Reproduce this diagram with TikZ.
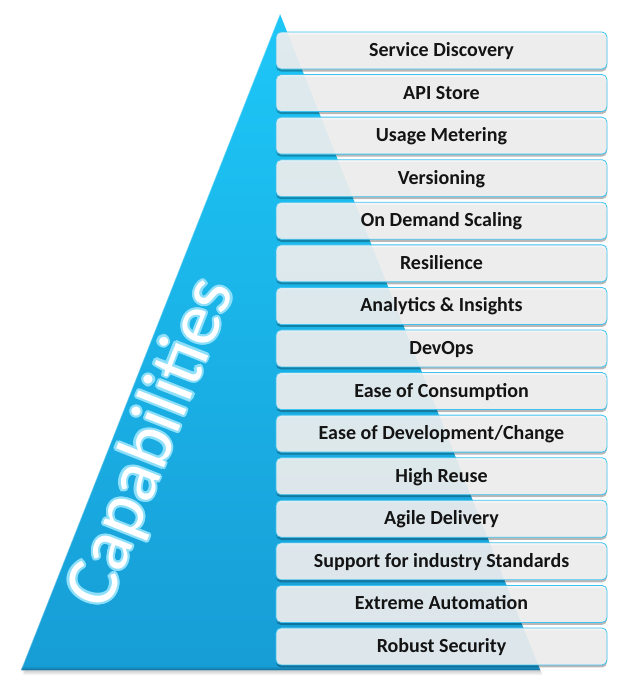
\documentclass[tikz,border=0pt]{standalone}
\usepackage{fontspec}
\setmainfont{Carlito}
\usetikzlibrary{calc,shadows}
\begin{document}
\begin{tikzpicture}[x=1pt,y=-1pt]
\definecolor{pyrtop}{HTML}{1DC7F7}
\definecolor{pyrbot}{HTML}{179DD6}
\definecolor{pyrrim}{HTML}{15709C}
\definecolor{barline}{HTML}{3FC2EF}
\definecolor{barfill}{HTML}{F4F4F4}
\definecolor{glow}{HTML}{8EE0FA}
\tikzset{
  bar/.style={draw=barline, line width=0.8pt, rounded corners=5pt,
    fill=barfill, fill opacity=0.9, text opacity=1,
    minimum width=331pt, minimum height=37pt, inner sep=0pt,
    text height=16pt, text depth=4pt,
    font=\fontsize{20}{22}\selectfont\bfseries, text=black!92,
    drop shadow={shadow xshift=0pt, shadow yshift=-2.5pt, opacity=0.28, fill=black}},
  captext/.style={rotate=68.4, inner sep=0pt, font=\fontsize{74}{74}\selectfont}
}
\useasboundingbox (0,0) rectangle (635,697);

% pyramid corners
\coordinate (apex) at (280,14);
\coordinate (bl) at (21,670);
\coordinate (br) at (540,670);

% soft shadow under the pyramid
\foreach \k in {1,...,5}
  \fill[black, opacity=0.045] ($(apex)+(0,\k)$) -- ($(br)+(0.5*\k,\k)$) -- ($(bl)+(0.5*\k,\k)$) -- cycle;

% pyramid body
\shade[top color=pyrtop, bottom color=pyrbot] (apex) -- (br) -- (bl) -- cycle;
% dark bevel along the base
\shade[top color=pyrbot, bottom color=pyrrim]
  (22.6,666) -- (538.4,666) -- (br) -- (bl) -- cycle;
% light rim on the left flank
\draw[white, opacity=0.35, line width=1.2pt] (apex) -- (bl);

% vertical title with a pale glow
\coordinate (capc) at (152.5,443);
\foreach \a in {0,30,...,330}
  \node[captext, text=glow] at ($(capc)+(\a:2.2)$) {Capabilities};
\node[captext, text=white] (cap) at (capc) {Capabilities};

% capability bars
\foreach \t [count=\i from 0] in {Service Discovery, API Store, Usage Metering,
    Versioning, On Demand Scaling, Resilience, Analytics \& Insights, DevOps,
    Ease of Consumption, Ease of Development/Change, High Reuse, Agile Delivery,
    Support for industry Standards, Extreme Automation, Robust Security}
  \node[bar] (b\i) at (441.5, 50.5+42.57*\i) {\t};
\end{tikzpicture}
\end{document}
